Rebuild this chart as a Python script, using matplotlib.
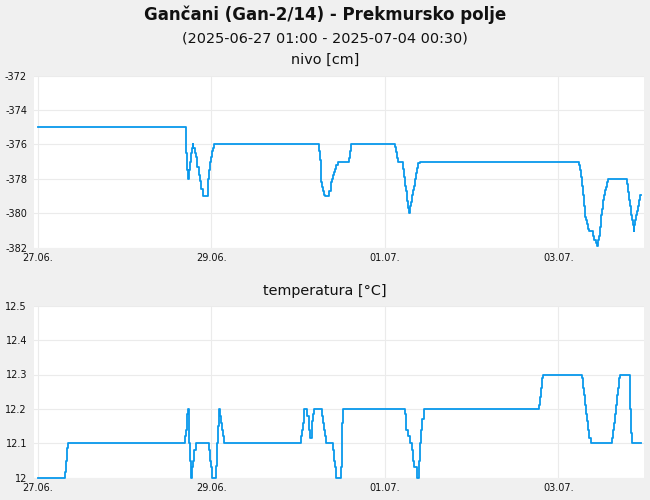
import matplotlib
matplotlib.use("Agg")
import matplotlib.pyplot as plt
import matplotlib.dates as mdates
import pandas as pd

# ---------------- data ----------------
title = "Gančani (Gan-2/14) - Prekmursko polje"
subtitle = "(2025-06-27 01:00 - 2025-07-04 00:30)"
level_title = "nivo [cm]"
temp_title = "temperatura [°C]"
base_time = "2025-06-27 00:00"

# hours since 27.06. 00:00 (each value holds until the next time)
level_hours = [0, 40.9, 41.1, 41.4, 41.6, 41.8, 42.1, 42.4, 42.6, 42.9, 43.1, 43.4, 43.7, 44.0,
               44.2, 44.5, 44.8, 45.1, 45.3, 45.6, 47.1, 47.2, 47.4, 47.7, 48.0, 48.3, 48.6, 48.9,
               77.9, 78.1, 78.25, 78.4, 78.7, 78.95, 79.2, 79.5,
               80.7, 81.0, 81.2, 81.5, 81.8, 82.1, 82.3, 82.6, 83.0,
               86.1, 86.4, 86.8,
               98.9, 99.2, 99.5, 99.7,
               101.0, 101.3, 101.6, 101.9, 102.2, 102.5, 102.8,
               103.0, 103.3, 103.55, 103.8, 104.1, 104.4, 104.7, 104.9, 105.2, 105.8,
               149.8, 150.1, 150.3, 150.6, 150.85, 151.1, 151.4, 151.7, 151.95, 152.2, 152.5,
               153.7, 154.0, 154.4, 154.7, 155.0, 155.25, 155.5, 155.8, 156.1, 156.35, 156.6,
               156.9, 157.2, 157.5, 157.8,
               162.9, 163.2, 163.5, 163.8, 164.1, 164.35, 164.6, 164.85, 165.0, 165.2, 165.5,
               165.75, 166.0, 166.3, 166.6, 166.9]
level_cm = [-375, -375.5, -376.5, -377.5, -378.0, -377.5, -377.0, -376.5, -376.2, -376.0, -376.2,
            -376.5, -376.7, -377.0, -377.3, -377.8, -378.1, -378.4, -378.6, -379.0, -378.6, -378.0,
            -377.5, -377.0, -376.7, -376.4, -376.2, -376.0,
            -376.35, -376.9, -377.5, -378.2, -378.45, -378.7, -378.95, -379.0,
            -378.7, -378.5, -378.2, -378.0, -377.8, -377.6, -377.4, -377.2, -377.0,
            -376.8, -376.35, -376.0,
            -376.15, -376.45, -376.8, -377.0,
            -377.4, -377.9, -378.4, -378.7, -379.3, -379.7, -380.0,
            -379.55, -379.35, -378.95, -378.65, -378.4, -378.0, -377.65, -377.35, -377.1, -377.0,
            -377.2, -377.5, -377.9, -378.4, -378.95, -379.6, -380.2, -380.4, -380.6, -380.9, -381.05,
            -381.3, -381.55, -381.7, -381.9, -381.55, -381.3, -380.8, -380.1, -379.75, -379.25, -378.95,
            -378.65, -378.45, -378.2, -378.0,
            -378.3, -378.75, -379.25, -379.6, -380.1, -380.4, -380.7, -381.05, -380.7, -380.4, -380.1,
            -379.85, -379.55, -379.25, -378.95, -378.95]

temp_hours = [0, 7.7, 7.95, 8.25, 8.5,
              40.8, 41.05, 41.25, 41.4, 41.6, 41.75, 41.9, 42.1, 42.3, 42.6, 43.1, 43.35, 43.7,
              47.5, 47.75, 48.05, 48.3, 49.4, 49.7, 49.9, 50.1, 50.3, 50.45, 50.75, 51.0, 51.3, 51.65,
              72.8, 73.1, 73.4, 73.75, 74.6, 74.95, 75.15, 75.35, 75.8, 76.0, 76.2, 76.5,
              78.6, 78.9, 79.2, 79.5, 79.7, 81.8, 82.05, 82.3, 82.6, 83.85, 84.1, 84.3, 84.55,
              101.6, 101.8, 102.0, 102.4, 103.0, 103.65, 103.85, 104.15, 104.85, 105.6, 105.85,
              106.1, 106.4, 106.85,
              138.75, 138.95, 139.2, 139.5, 139.9,
              150.65, 150.85, 151.1, 151.4, 151.65, 151.95, 152.2, 152.5, 152.95,
              158.8, 159.1, 159.4, 159.7, 159.95, 160.25, 160.5, 160.8, 160.95,
              163.9, 164.2, 164.5, 166.8]
temp_c = [12.0, 12.016, 12.05, 12.085, 12.1,
          12.12, 12.14, 12.165, 12.185, 12.2, 12.165, 12.1, 12.05, 12.0, 12.03, 12.05, 12.08, 12.1,
          12.08, 12.05, 12.03, 12.0, 12.035, 12.1, 12.15, 12.18, 12.2, 12.18, 12.16, 12.14, 12.12, 12.1,
          12.12, 12.14, 12.16, 12.2, 12.18, 12.16, 12.14, 12.115, 12.14, 12.165, 12.185, 12.2,
          12.18, 12.16, 12.14, 12.12, 12.1, 12.08, 12.05, 12.03, 12.0, 12.03, 12.1, 12.16, 12.2,
          12.185, 12.16, 12.14, 12.12, 12.1, 12.08, 12.05, 12.03, 12.0, 12.05, 12.1,
          12.14, 12.17, 12.2,
          12.21, 12.235, 12.26, 12.29, 12.3,
          12.29, 12.26, 12.24, 12.21, 12.185, 12.165, 12.14, 12.115, 12.1,
          12.115, 12.14, 12.16, 12.185, 12.21, 12.24, 12.26, 12.29, 12.3,
          12.2, 12.13, 12.1, 12.1]

level_ticks = [-382, -380, -378, -376, -374, -372]
level_ticklabels = ["-382", "-380", "-378", "-376", "-374", "-372"]
temp_ticks = [12.0, 12.1, 12.2, 12.3, 12.4, 12.5]
temp_ticklabels = ["12", "12.1", "12.2", "12.3", "12.4", "12.5"]
date_ticks = ["2025-06-27", "2025-06-29", "2025-07-01", "2025-07-03"]
x_start = "2025-06-26 23:00"
x_end = "2025-07-03 23:42"

# ---------------- plotting ----------------
LINE = "#0898ec"
GRID = "#ebebeb"
BG = "#f0f0f0"

base = pd.Timestamp(base_time)
lt = [base + pd.Timedelta(hours=h) for h in level_hours]
tt = [base + pd.Timedelta(hours=h) for h in temp_hours]

fig = plt.figure(figsize=(6.5, 5), dpi=100, facecolor=BG)
ax1 = fig.add_axes([34 / 650, 1 - 247.7 / 500, 610 / 650, 172 / 500])
ax2 = fig.add_axes([34 / 650, 1 - 477.7 / 500, 610 / 650, 172 / 500])

def style(ax, ticks, labels, ylim):
    ax.set_facecolor("white")
    for s in ax.spines.values():
        s.set_visible(False)
    ax.set_ylim(*ylim)
    ax.set_yticks(ticks)
    ax.set_yticklabels(labels)
    ax.set_xlim(pd.Timestamp(x_start), pd.Timestamp(x_end))
    ax.set_xticks([pd.Timestamp(d) for d in date_ticks])
    ax.xaxis.set_major_formatter(mdates.DateFormatter("%d.%m."))
    ax.tick_params(axis="both", length=0, labelsize=7, colors="#111111")
    ax.tick_params(axis="y", pad=5)
    ax.tick_params(axis="x", pad=4)
    ax.grid(True, color=GRID, linewidth=0.8)
    ax.set_axisbelow(True)

style(ax1, level_ticks, level_ticklabels, (-382, -372))
style(ax2, temp_ticks, temp_ticklabels, (12.0, 12.5))

ax1.plot(lt, level_cm, drawstyle="steps-post", color=LINE, linewidth=1.3, clip_on=False)
ax2.plot(tt, temp_c, drawstyle="steps-post", color=LINE, linewidth=1.3, clip_on=False)

fig.text(0.5, 1 - 14.5 / 500, title, ha="center", va="center", fontsize=12, fontweight="bold", color="#111111")
fig.text(0.5, 1 - 38 / 500, subtitle, ha="center", va="center", fontsize=10.4, color="#111111")
fig.text(0.5, 1 - 60 / 500, level_title, ha="center", va="center", fontsize=10.4, color="#111111")
fig.text(0.5, 1 - 290.5 / 500, temp_title, ha="center", va="center", fontsize=10.4, color="#111111")

fig.savefig("out.png", dpi=100, facecolor=BG)
